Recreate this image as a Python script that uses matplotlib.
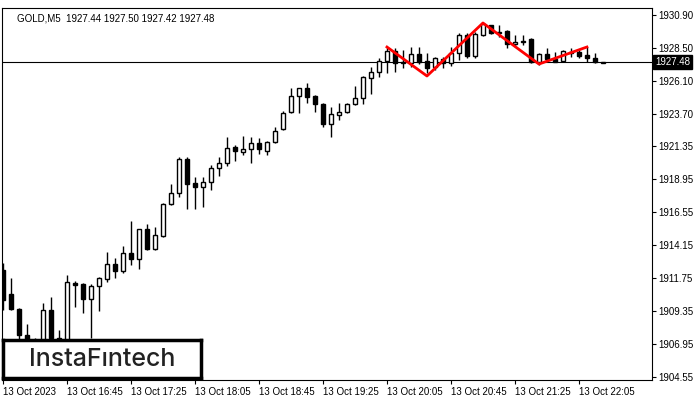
import numpy as np
import matplotlib.pyplot as plt

opens = [1912.34, 1910.59, 1909.50, 1907.60, 1907.17, 1906.88, 1909.42, 1907.39, 1906.88, 1911.39,
         1911.32, 1910.22, 1911.17, 1911.68, 1912.77, 1912.26, 1913.57, 1913.14, 1915.32, 1913.86,
         1914.81, 1917.14, 1917.94, 1920.42, 1918.67, 1918.38, 1918.74, 1919.76, 1920.13, 1921.29,
         1920.93, 1921.14, 1921.58, 1921.00, 1921.66, 1922.60, 1923.84, 1925.00, 1925.59, 1925.00,
         1924.42, 1922.96, 1923.62, 1923.84, 1924.42, 1924.86, 1926.31, 1926.75, 1927.55, 1928.28,
         1927.41, 1927.41, 1928.06, 1927.55, 1927.11, 1927.70, 1927.41, 1928.13, 1929.44, 1927.91,
         1929.44, 1930.17, 1929.59, 1929.74, 1928.79, 1928.93, 1929.15, 1927.48, 1928.06, 1927.70,
         1927.55, 1928.21, 1928.21, 1927.99, 1927.77, 1927.44]
highs = [1912.85, 1911.75, 1909.57, 1908.40, 1907.39, 1909.93, 1910.37, 1907.97, 1911.97, 1911.54,
         1911.39, 1911.32, 1911.83, 1913.65, 1913.21, 1914.08, 1915.90, 1915.32, 1915.68, 1915.46,
         1917.21, 1918.60, 1920.56, 1920.56, 1919.11, 1919.11, 1919.98, 1920.56, 1922.02, 1921.44,
         1922.09, 1922.02, 1921.95, 1921.73, 1922.75, 1923.91, 1925.59, 1925.59, 1925.95, 1925.08,
         1924.49, 1924.20, 1924.49, 1924.49, 1925.73, 1926.46, 1927.11, 1927.77, 1928.57, 1928.50,
         1928.35, 1928.57, 1928.57, 1928.13, 1927.84, 1927.84, 1928.57, 1929.59, 1929.59, 1929.66,
         1930.32, 1930.17, 1930.17, 1929.81, 1929.44, 1929.44, 1929.22, 1928.13, 1928.50, 1928.21,
         1928.35, 1928.50, 1928.35, 1928.57, 1928.13, 1927.50]
lows = [1909.42, 1909.42, 1907.24, 1906.51, 1906.37, 1906.51, 1906.88, 1906.51, 1906.66, 1909.64,
        1909.21, 1907.39, 1909.35, 1911.46, 1911.75, 1912.12, 1912.70, 1912.41, 1913.79, 1913.79,
        1914.74, 1917.07, 1917.65, 1916.78, 1916.78, 1916.92, 1918.16, 1919.18, 1919.91, 1920.27,
        1920.71, 1920.13, 1920.78, 1920.71, 1921.58, 1922.53, 1923.77, 1923.77, 1924.49, 1923.84,
        1922.75, 1922.02, 1923.26, 1923.77, 1924.35, 1924.42, 1925.15, 1926.39, 1926.68, 1926.75,
        1927.04, 1927.11, 1927.33, 1926.68, 1926.90, 1927.04, 1927.19, 1927.62, 1927.77, 1927.77,
        1929.37, 1929.52, 1929.30, 1928.50, 1928.57, 1928.72, 1927.41, 1927.26, 1927.48, 1927.48,
        1927.48, 1927.84, 1927.77, 1927.48, 1927.41, 1927.42]
closes = [1910.15, 1909.50, 1907.60, 1907.24, 1906.80, 1909.42, 1907.39, 1907.24, 1911.46, 1911.24,
          1910.22, 1911.17, 1911.75, 1912.77, 1912.26, 1913.57, 1913.14, 1915.32, 1913.86, 1914.88,
          1917.14, 1917.94, 1920.42, 1918.60, 1918.38, 1918.74, 1919.76, 1920.13, 1921.22, 1921.00,
          1921.14, 1921.58, 1921.14, 1921.66, 1922.46, 1923.77, 1925.00, 1925.59, 1924.93, 1924.42,
          1922.96, 1923.69, 1923.84, 1924.42, 1924.86, 1926.39, 1926.75, 1927.55, 1928.28, 1927.41,
          1927.48, 1928.06, 1927.48, 1927.04, 1927.77, 1927.41, 1928.13, 1929.44, 1927.91, 1929.52,
          1930.24, 1929.59, 1929.66, 1928.79, 1928.93, 1929.01, 1927.48, 1928.06, 1927.70, 1927.48,
          1928.28, 1928.13, 1927.91, 1927.77, 1927.48, 1927.48]

pattern_bars = [48, 53, 60, 67, 73]
pattern_prices = [1928.57, 1926.46, 1930.32, 1927.33, 1928.57]

ytick_vals = [1930.90, 1928.50, 1926.10, 1923.70, 1921.35, 1918.95, 1916.55, 1914.15,
              1911.75, 1909.35, 1906.95, 1904.55]
xtick_bars = [0, 8, 16, 24, 32, 40, 48, 56, 64, 72]
xtick_labels = ['13 Oct 2023', '13 Oct 16:45', '13 Oct 17:25', '13 Oct 18:05', '13 Oct 18:45',
                '13 Oct 19:25', '13 Oct 20:05', '13 Oct 20:45', '13 Oct 21:25', '13 Oct 22:05']
last_price = 1927.48

plt.rcParams['font.family'] = 'Liberation Sans'
fig = plt.figure(figsize=(7, 4), dpi=100)
ax = fig.add_axes([0.003, 0.05, 0.928, 0.93])

x = np.arange(len(opens))
o = np.array(opens); c = np.array(closes)
ax.vlines(x, lows, highs, color='black', lw=1, zorder=2)
up = c >= o
ax.bar(x[up], (c - o)[up], bottom=o[up], width=0.6, facecolor='white', edgecolor='black', lw=1, zorder=3)
ax.bar(x[~up], (o - c)[~up], bottom=c[~up], width=0.6, facecolor='black', edgecolor='black', lw=1, zorder=3)

ax.axhline(last_price, color='black', lw=0.8, zorder=1)
ax.plot(pattern_bars, pattern_prices, color='red', lw=2, zorder=4)

ax.set_xlim(-0.125, 81.1)
ax.set_ylim(1904.33, 1931.41)
ax.yaxis.tick_right()
ax.set_yticks(ytick_vals)
ax.set_yticklabels(['%.2f' % v for v in ytick_vals], fontsize=7)
ax.set_xticks(xtick_bars)
ax.set_xticklabels(xtick_labels, fontsize=7, ha='left')
ax.tick_params(length=3, width=0.8, pad=2)
for s in ax.spines.values():
    s.set_linewidth(0.8)

ax.text(1.005, last_price, '%.2f' % last_price, transform=ax.get_yaxis_transform(),
        fontsize=7, color='white', va='center', ha='left', zorder=10,
        bbox=dict(facecolor='black', edgecolor='black', pad=1.5), clip_on=False)

ax.text(0.023, 0.985, 'GOLD,M5  1927.44 1927.50 1927.42 1927.48', transform=ax.transAxes,
        fontsize=7, va='top', ha='left')

# logo box
logo = fig.add_axes([3 / 700, 1 - 378 / 400, 198 / 700, 38 / 400])
logo.set_xticks([]); logo.set_yticks([])
for s in logo.spines.values():
    s.set_linewidth(2.5)
logo.text(0.5, 0.5, 'InstaFıntech', fontsize=18, ha='center', va='center', color='#222222',
          family='Inter', weight='medium', transform=logo.transAxes)

fig.savefig('out.png', dpi=100)
